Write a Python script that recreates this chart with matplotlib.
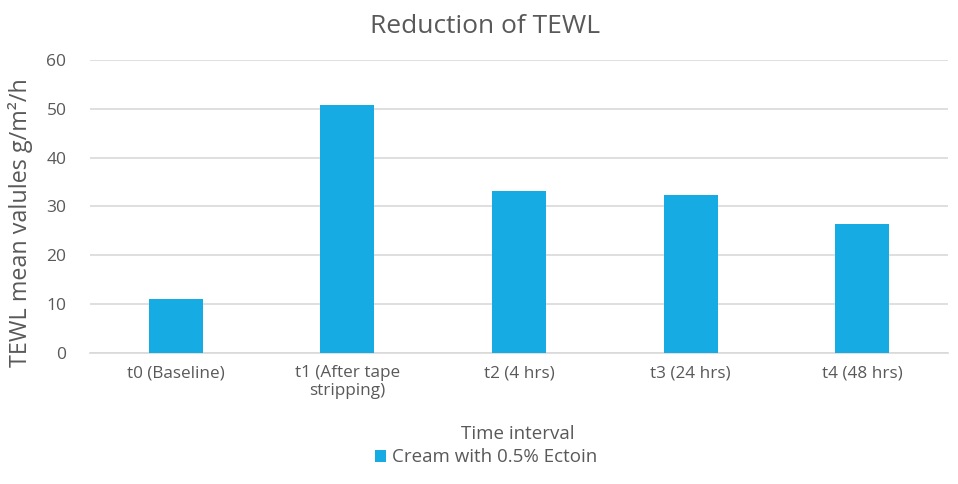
import matplotlib
matplotlib.use("Agg")
import matplotlib.pyplot as plt
import numpy as np

plt.rcParams['font.family'] = ['Open Sans', 'DejaVu Sans']

categories = ["t0 (Baseline)", "t1 (After tape\nstripping)", "t2 (4 hrs)", "t3 (24 hrs)", "t4 (48 hrs)"]
values = [11.0, 50.8, 33.1, 32.4, 26.4]
series_name = "Cream with 0.5% Ectoin"

text_color = "#595959"
bar_color = "#16ACE3"
grid_color = "#D9D9D9"

fig = plt.figure(figsize=(9.58, 4.84), dpi=100)
ax = fig.add_axes([0.094, 0.2707, 0.8956, 0.6053])

x = np.arange(len(categories))
ax.bar(x, values, width=0.315, color=bar_color, label=series_name, zorder=3)

ax.set_xlim(-0.5, len(categories) - 0.5)
ax.set_ylim(0, 60)
ax.set_yticks(np.arange(0, 61, 10))
ax.set_xticks(x)
ax.set_xticklabels(categories, fontsize=12.3, color=text_color, linespacing=1.15)
ax.tick_params(axis='y', labelsize=12.5, labelcolor=text_color, length=0, pad=17)
ax.tick_params(axis='x', length=0, pad=9)

ax.grid(axis='y', color=grid_color, linewidth=1.2, zorder=0)
for s in ['top', 'right', 'left']:
    ax.spines[s].set_visible(False)
ax.spines['bottom'].set_color(grid_color)
ax.spines['bottom'].set_linewidth(1.2)

fig.text(0.506, 0.945, "Reduction of TEWL", ha='center', va='center', fontsize=19, color=text_color)
# y label placed on the figure so it sits where the reference has it
fig.text(0.021, 0.54, "TEWL mean valules g/m\u00b2/h", rotation=90, ha='center', va='center',
         fontsize=16.8, color=text_color)
fig.text(0.54, 0.103, "Time interval", ha='center', va='center', fontsize=13.5, color=text_color)

fig.legend(loc='center', bbox_to_anchor=(0.507, 0.055), frameon=False, fontsize=13.5,
           labelcolor=text_color, handlelength=0.6, handleheight=0.6, handletextpad=0.3)

fig.savefig("out.png", dpi=100)
